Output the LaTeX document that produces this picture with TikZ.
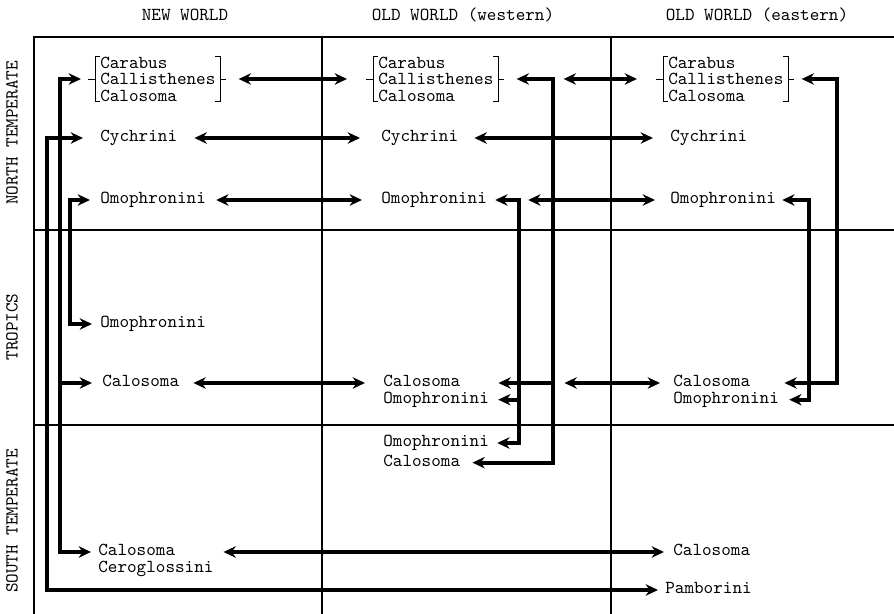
\documentclass[tikz,border=0pt]{standalone}
\usepackage{fontspec}
\usetikzlibrary{positioning, arrows.meta, calc}

\newcommand{\grpbracket}[1]{%
  \draw[brk] ([xshift=3pt]#1.north west) -- (#1.north west) -- (#1.south west) -- ([xshift=3pt]#1.south west);
  \draw[brk] (#1.west) -- ++(-4pt,0);
  \draw[brk] ([xshift=-3pt]#1.north east) -- (#1.north east) -- (#1.south east) -- ([xshift=-3pt]#1.south east);
  \draw[brk] (#1.east) -- ++(3pt,0);}

\begin{document}
\begin{tikzpicture}[
            x=0.02cm, y=-0.02cm,
            % Estilos
            lbl/.style={font=\ttfamily\fontsize{10.4}{9.4}\selectfont, inner sep=0pt, text height=6.5pt, text depth=2pt, anchor=west},
            grp/.style={font=\ttfamily\fontsize{10.4}{9.4}\selectfont, align=left, inner xsep=2.8pt, inner ysep=0pt, anchor=west},
            hdr/.style={font=\ttfamily\fontsize{10.4}{11}\selectfont, inner sep=0pt},
            side/.style={hdr, rotate=90},
            grid/.style={line width=0.6pt},
            brk/.style={line width=0.5pt},
            link/.style={<->, >={Stealth[length=7pt, width=6.5pt]}, line width=2.2pt},
            arrow/.style={->, >={Stealth[length=7pt, width=6.5pt]}, line width=2.2pt}
        ]
            \useasboundingbox (0,0) rectangle (894,614);

            % Cuadro
            \draw[grid] (34,614) -- (34,37) -- (894,37);
            \draw[grid] (322,37) -- (322,614);
            \draw[grid] (611,37) -- (611,614);
            \draw[grid] (34,230) -- (894,230);
            \draw[grid] (34,425) -- (894,425);

            % Encabezados
            \node[hdr] (hNew) at (185,15) {NEW WORLD};
            \node[hdr] (hWest) at (463,15) {OLD WORLD (western)};
            \node[hdr] (hEast) at (757,15) {OLD WORLD (eastern)};
            \node[side] (rNorth) at (12,133) {NORTH TEMPERATE};
            \node[side] (rTrop) at (12,327) {TROPICS};
            \node[side] (rSouth) at (12,521) {SOUTH TEMPERATE};

            % New World
            \node[grp] (nwCar) at (95,79) {Carabus\\Callisthenes\\Calosoma};
            \node[lbl] (nwCyc) at (100,138) {Cychrini};
            \node[lbl] (nwOmoN) at (100,200) {Omophronini};
            \node[lbl] (nwOmoT) at (100,324) {Omophronini};
            \node[lbl] (nwCalT) at (102,383) {Calosoma};
            \node[lbl] (nwCalS) at (98,552) {Calosoma};
            \node[lbl, below=0.6pt of nwCalS.south west, anchor=north west] (nwCer) {Ceroglossini};

            % Old World (western)
            \node[grp] (owCar) at (373,79) {Carabus\\Callisthenes\\Calosoma};
            \node[lbl] (owCyc) at (381,138) {Cychrini};
            \node[lbl] (owOmoN) at (381,200) {Omophronini};
            \node[lbl] (owCalT) at (383,383) {Calosoma};
            \node[lbl, below=0.6pt of owCalT.south west, anchor=north west] (owOmoT) {Omophronini};
            \node[lbl] (owOmoS) at (383,443) {Omophronini};
            \node[lbl, below=2.3pt of owOmoS.south west, anchor=north west] (owCalS) {Calosoma};

            % Old World (eastern)
            \node[grp] (oeCar) at (663,79) {Carabus\\Callisthenes\\Calosoma};
            \node[lbl] (oeCyc) at (670,138) {Cychrini};
            \node[lbl] (oeOmoN) at (670,200) {Omophronini};
            \node[lbl] (oeCalT) at (673,383) {Calosoma};
            \node[lbl, below=0.6pt of oeCalT.south west, anchor=north west] (oeOmoT) {Omophronini};
            \node[lbl] (oeCalS) at (673,552) {Calosoma};
            \node[lbl] (oePam) at (665,590) {Pamborini};

            \grpbracket{nwCar}
            \grpbracket{owCar}
            \grpbracket{oeCar}

            % Troncos verticales
            \coordinate (trA) at (47,260);
            \coordinate (trB) at (60,260);
            \coordinate (trC) at (70,260);
            \coordinate (trE) at (519,260);
            \coordinate (trD) at (553,260);
            \coordinate (trG) at (809,260);
            \coordinate (trF) at (837,260);

            % Flechas entre columnas
            \draw[link] ($(nwCar.east)+(18,0)$) -- ($(owCar.west)+(-26,0)$);
            \draw[link] ($(owCar.east)+(65,0)$) -- ($(oeCar.west)+(-26,0)$);
            \draw[link] ($(nwCyc.east)+(17,0)$) -- ($(owCyc.west)+(-21,0)$);
            \draw[link] ($(owCyc.east)+(16,0)$) -- ($(oeCyc.west)+(-17,0)$);
            \draw[link] ($(nwOmoN.east)+(10,0)$) -- ($(owOmoN.west)+(-19,0)$);
            \draw[link] ($(owOmoN.east)+(41,0)$) -- ($(oeOmoN.west)+(-15,0)$);
            \draw[link] ($(nwCalT.east)+(14,0)$) -- ($(owCalT.west)+(-18,0)$);
            \draw[link] ($(owCalT.east)+(104,0)$) -- ($(oeCalT.west)+(-13,0)$);
            \draw[link] ($(nwCalS.east)+(48,0)$) -- ($(oeCalS.west)+(-9,0)$);

            % New World
            \draw[link] ($(nwCyc.west)+(-17,0)$) -| (trA) |- ($(oePam.west)+(-7,0)$);
            \draw[link] ($(nwCar.west)+(-14,0)$) -| (trB) |- ($(nwCalS.west)+(-7,0)$);
            \draw[arrow] (trB |- nwCalT) -- ($(nwCalT.west)+(-10,0)$);
            \draw[link] ($(nwOmoN.west)+(-10,0)$) -| (trC) |- ($(nwOmoT.west)+(-8,0)$);

            % Old World (western)
            \draw[link] ($(owCar.east)+(18,0)$) -| (trD) |- ($(owCalS.east)+(12,0)$);
            \draw[arrow] (trD |- owCalT) -- ($(owCalT.east)+(38,0)$);
            \draw[link] ($(owOmoN.east)+(8,0)$) -| (trE) |- ($(owOmoS.east)+(8,0)$);
            \draw[arrow] (trE |- owOmoT) -- ($(owOmoT.east)+(9,0)$);

            % Old World (eastern)
            \draw[link] ($(oeCar.east)+(13,0)$) -| (trF) |- ($(oeCalT.east)+(34,0)$);
            \draw[link] ($(oeOmoN.east)+(6,0)$) -| (trG) |- ($(oeOmoT.east)+(10,0)$);
        \end{tikzpicture}
\end{document}
